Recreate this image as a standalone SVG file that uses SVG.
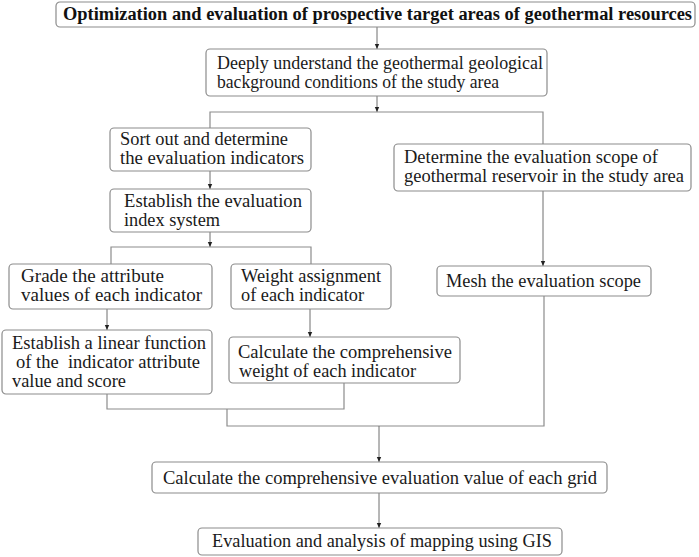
<svg xmlns="http://www.w3.org/2000/svg" width="699" height="557" viewBox="0 0 699 557">
<defs>
<style>
.box{fill:#fff;stroke:#8c8c8c;stroke-width:1.2}
.t{font-family:"Liberation Serif","Times New Roman",serif;font-size:18px;fill:#1a1a1a}
.tb{font-family:"Liberation Serif","Times New Roman",serif;font-size:18px;font-weight:bold;fill:#111}
.ln{fill:none;stroke:#8c8c8c;stroke-width:1.2}
.ar{fill:none;stroke:#6e6e6e;stroke-width:1}
</style>
<marker id="ah" markerWidth="6" markerHeight="6" refX="5" refY="3" orient="auto" markerUnits="userSpaceOnUse">
<path d="M0,0.8 L5,3 L0,5.2 Z" fill="#222"/>
</marker>
</defs>
<rect width="699" height="557" fill="#fff"/>
<g id="connectors">
<line class="ar" x1="377" y1="27" x2="377" y2="49" marker-end="url(#ah)"/>
<line class="ar" x1="377" y1="96" x2="377" y2="112" marker-end="url(#ah)"/>
<polyline class="ln" points="210,128 210,112 543,112 543,144"/>
<line class="ar" x1="210" y1="171" x2="210" y2="189" marker-end="url(#ah)"/>
<line class="ar" x1="210" y1="232" x2="210" y2="247" marker-end="url(#ah)"/>
<polyline class="ln" points="111,264 111,247 311,247 311,264"/>
<line class="ar" x1="107" y1="309" x2="107" y2="330" marker-end="url(#ah)"/>
<line class="ar" x1="310" y1="309" x2="310" y2="337" marker-end="url(#ah)"/>
<line class="ar" x1="543" y1="191" x2="543" y2="266" marker-end="url(#ah)"/>
<polyline class="ln" points="107,394 107,409 344,409 344,383"/>
<polyline class="ln" points="227,409 227,426 544,426 544,296"/>
<line class="ar" x1="379" y1="426" x2="379" y2="462" marker-end="url(#ah)"/>
<line class="ar" x1="379" y1="493" x2="379" y2="528" marker-end="url(#ah)"/>
</g>
<g id="n_title">
<rect class="box" x="56" y="2" width="639" height="25" rx="4"/>
<text class="tb" x="63" y="20" textLength="629" lengthAdjust="spacingAndGlyphs">Optimization and evaluation of prospective target areas of geothermal resources</text>
</g>
<g id="n_background">
<rect class="box" x="206" y="49" width="341" height="47" rx="4"/>
<text class="t" x="217" y="69" textLength="326" lengthAdjust="spacingAndGlyphs">Deeply understand the geothermal geological</text>
<text class="t" x="217" y="88" textLength="282" lengthAdjust="spacingAndGlyphs">background conditions of the study area</text>
</g>
<g id="n_sort">
<rect class="box" x="110" y="128" width="201" height="43" rx="4"/>
<text class="t" x="120" y="145" textLength="168" lengthAdjust="spacingAndGlyphs">Sort out and determine</text>
<text class="t" x="120" y="164" textLength="184" lengthAdjust="spacingAndGlyphs">the evaluation indicators</text>
</g>
<g id="n_index">
<rect class="box" x="110" y="189" width="201" height="43" rx="4"/>
<text class="t" x="124" y="207" textLength="178" lengthAdjust="spacingAndGlyphs">Establish the evaluation</text>
<text class="t" x="124" y="226" textLength="96" lengthAdjust="spacingAndGlyphs">index system</text>
</g>
<g id="n_grade">
<rect class="box" x="9" y="264" width="203" height="45" rx="4"/>
<text class="t" x="21" y="282" textLength="143" lengthAdjust="spacingAndGlyphs">Grade the attribute</text>
<text class="t" x="21" y="301" textLength="181" lengthAdjust="spacingAndGlyphs">values of each indicator</text>
</g>
<g id="n_weight">
<rect class="box" x="231" y="264" width="160" height="45" rx="4"/>
<text class="t" x="241" y="282" textLength="140" lengthAdjust="spacingAndGlyphs">Weight assignment</text>
<text class="t" x="241" y="301" textLength="123" lengthAdjust="spacingAndGlyphs">of each indicator</text>
</g>
<g id="n_linear">
<rect class="box" x="2" y="330" width="210" height="64" rx="4"/>
<text class="t" x="12" y="349" textLength="194" lengthAdjust="spacingAndGlyphs">Establish a linear function</text>
<text class="t" x="16" y="368" textLength="184" lengthAdjust="spacingAndGlyphs" xml:space="preserve">of the  indicator attribute</text>
<text class="t" x="12" y="387" textLength="114" lengthAdjust="spacingAndGlyphs">value and score</text>
</g>
<g id="n_calcweight">
<rect class="box" x="229" y="337" width="231" height="46" rx="4"/>
<text class="t" x="238" y="358" textLength="214" lengthAdjust="spacingAndGlyphs">Calculate the comprehensive</text>
<text class="t" x="239" y="377" textLength="177" lengthAdjust="spacingAndGlyphs">weight of each indicator</text>
</g>
<g id="n_scope">
<rect class="box" x="394" y="144" width="297" height="47" rx="4"/>
<text class="t" x="404" y="163" textLength="254" lengthAdjust="spacingAndGlyphs">Determine the evaluation scope of</text>
<text class="t" x="404" y="182" textLength="280" lengthAdjust="spacingAndGlyphs">geothermal reservoir in the study area</text>
</g>
<g id="n_mesh">
<rect class="box" x="437" y="266" width="214" height="30" rx="4"/>
<text class="t" x="446" y="287" textLength="195" lengthAdjust="spacingAndGlyphs">Mesh the evaluation scope</text>
</g>
<g id="n_grid">
<rect class="box" x="152" y="462" width="455" height="31" rx="4"/>
<text class="t" x="163" y="484" textLength="434" lengthAdjust="spacingAndGlyphs">Calculate the comprehensive evaluation value of each grid</text>
</g>
<g id="n_gis">
<rect class="box" x="198" y="528" width="364" height="27" rx="4"/>
<text class="t" x="212" y="547" textLength="340" lengthAdjust="spacingAndGlyphs">Evaluation and analysis of mapping using GIS</text>
</g>
</svg>
